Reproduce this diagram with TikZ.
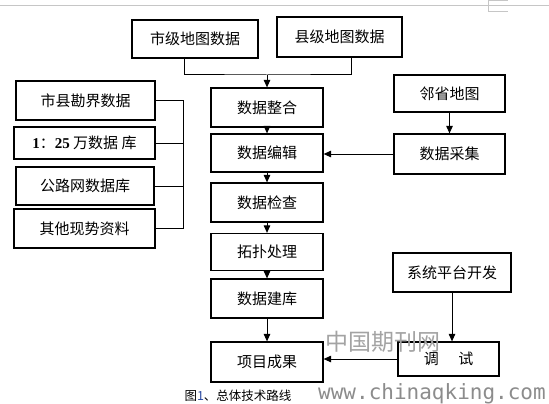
\documentclass[tikz,border=0pt]{standalone}
\usepackage{fontspec}
\setmainfont{Noto Sans CJK SC}
\newfontfamily\latinserif{Liberation Serif}
\newfontfamily\monofont{DejaVu Sans Mono}
\usetikzlibrary{arrows.meta}
\definecolor{wm}{HTML}{8C8C8C}
\definecolor{capblue}{HTML}{2848A0}
\tikzset{
  box/.style={draw=black, line width=1.2pt, fill=white, inner sep=0pt, align=center, font=\fontsize{15}{17}\selectfont},
  link/.style={draw=black, line width=1pt},
  arr/.style={link, -{Triangle[length=7.5pt,width=6.5pt]}},
}
\begin{document}
\begin{tikzpicture}[x=1pt,y=-1pt]
\useasboundingbox (0,0) rectangle (549,404);
\fill[white] (0,0) rectangle (549,404);
% screenshot frame
\draw[gray!45, line width=0.6pt] (0,5) -- (549,5);
\draw[gray!45, line width=0.6pt] (488,0.5) -- (508,0.5) (488,0) -- (488,11) -- (508,11);

% top sources
\node[box, minimum width=126pt, minimum height=38pt] (sj) at (195,39) {市级地图数据};
\node[box, minimum width=125pt, minimum height=40pt] (xj) at (339.5,37) {县级地图数据};

% central chain
\node[box, minimum width=112pt, minimum height=39pt] (zh) at (267,107.5) {数据整合};
\node[box, minimum width=112pt, minimum height=38pt] (bj) at (267,153) {数据编辑};
\node[box, minimum width=112pt, minimum height=39pt] (jc) at (267,202.5) {数据检查};
\node[box, minimum width=112pt, minimum height=37pt] (tp) at (267,252) {拓扑处理};
\node[box, minimum width=112pt, minimum height=39pt] (jk) at (267,298.5) {数据建库};
\node[box, minimum width=112pt, minimum height=40pt] (cg) at (267,362) {项目成果};

% right column
\node[box, minimum width=111pt, minimum height=37pt] (ls) at (449.5,93.5) {邻省地图};
\node[box, minimum width=111pt, minimum height=40pt] (cj) at (449.5,154) {数据采集};
\node[box, minimum width=118pt, minimum height=39pt] (xt) at (452,272.5) {系统平台开发};
\node[box, minimum width=101pt, minimum height=34pt] (ts) at (448.5,359) {调\hspace{1.3em}试};

% left column
\node[box, minimum width=139pt, minimum height=39pt] (l1) at (85.5,100.5) {市县勘界数据};
\node[box, minimum width=141pt, minimum height=32pt] (l2) at (84.5,143) {{\latinserif\bfseries 1}：{\latinserif\bfseries 25} 万数据 库};
\node[box, minimum width=138pt, minimum height=38pt] (l3) at (85,186) {公路网数据库};
\node[box, minimum width=141pt, minimum height=39pt] (l4) at (84.5,228.5) {其他现势资料};

% connectors
\coordinate (jn) at (267,75);
\draw[link] ([xshift=-11pt]sj.south) |- (jn) -| ([xshift=11.5pt]xj.south);
\draw[arr] (jn) -- (zh.north);
\draw[arr] (zh) -- (bj);
\draw[arr] (bj) -- (jc);
\draw[arr] (jc) -- (tp);
\draw[arr] (tp) -- (jk);
\draw[arr] (jk) -- (cg);
\draw[arr] (ls) -- (cj);
\draw[arr] (cj.west) -- (cj.west -| bj.east);
\draw[arr] (xt.south) -- (xt.south |- ts.north);
\draw[arr] (ts.west) -- (ts.west -| cg.east);

\coordinate (bx) at (183,0);
\draw[link] (l1.east) -- (l1.east -| bx) -- (l4.east -| bx) -- (l4.east);
\draw[link] (l2.east) -- (l2.east -| bx);
\draw[link] (l3.east) -- (l3.east -| bx);

% watermark and caption
\node[text=wm!80, font=\fontsize{23}{25}\selectfont, inner sep=0pt] (wm1) at (383,342) {中国期刊网};
\node[font=\fontsize{12.5}{14}\selectfont, inner sep=0pt] (cap) at (238,396) {图{\color{capblue}1}、总体技术路线};
\node[text=wm, font=\monofont\fontsize{21}{23}\selectfont, inner sep=0pt, anchor=west] (wm2) at (318,394) {www.chinaqking.com};
\end{tikzpicture}
\end{document}
